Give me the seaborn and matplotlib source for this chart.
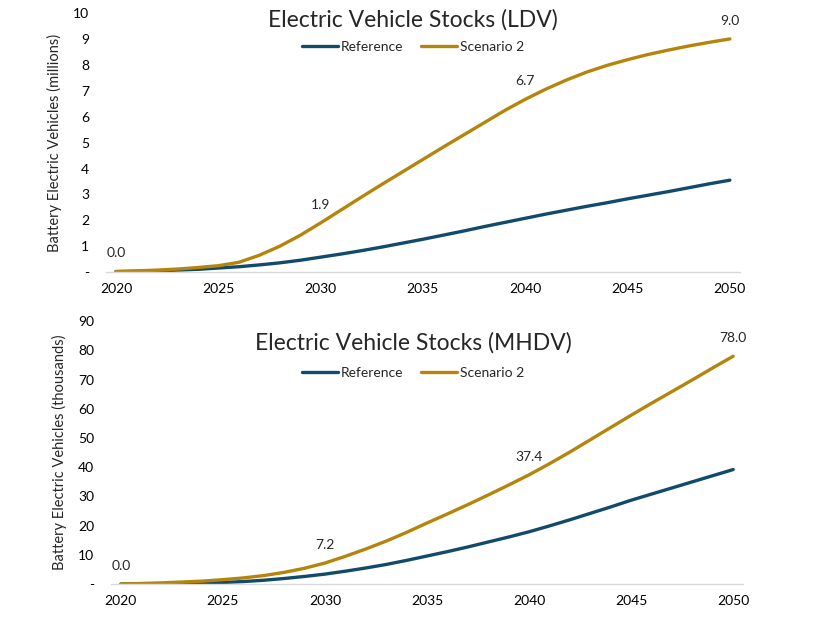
import pandas as pd
import matplotlib.pyplot as plt
import seaborn as sns

years = list(range(2020, 2051))

# LDV stocks, millions
ldv_reference = [0.02, 0.03, 0.05, 0.08, 0.11, 0.16, 0.21, 0.28, 0.36, 0.46,
                 0.58, 0.70, 0.83, 0.97, 1.12, 1.27, 1.43, 1.59, 1.76, 1.92,
                 2.08, 2.24, 2.39, 2.54, 2.68, 2.83, 2.97, 3.11, 3.26, 3.41,
                 3.55]
ldv_scenario2 = [0.03, 0.05, 0.08, 0.12, 0.18, 0.25, 0.38, 0.65, 1.00, 1.42,
                 1.90, 2.40, 2.90, 3.39, 3.87, 4.35, 4.83, 5.30, 5.77, 6.24,
                 6.67, 7.06, 7.41, 7.72, 7.98, 8.20, 8.40, 8.57, 8.73, 8.87,
                 9.00]

# MHDV stocks, thousands
mhdv_reference = [0.0, 0.05, 0.1, 0.2, 0.35, 0.55, 0.85, 1.3, 1.9, 2.6,
                  3.4, 4.4, 5.5, 6.7, 8.1, 9.6, 11.1, 12.7, 14.4, 16.1,
                  17.9, 19.9, 22.0, 24.2, 26.4, 28.7, 30.8, 32.9, 35.0, 37.1,
                  39.2]
mhdv_scenario2 = [0.0, 0.2, 0.4, 0.7, 1.0, 1.5, 2.1, 2.9, 4.0, 5.4,
                  7.2, 9.5, 12.0, 14.7, 17.7, 20.9, 24.0, 27.2, 30.5, 33.9,
                  37.4, 41.2, 45.2, 49.4, 53.6, 57.8, 61.9, 65.9, 69.9, 74.0,
                  78.0]

label_years = [2020, 2030, 2040, 2050]
series_names = ["Reference", "Scenario 2"]
colors = {"Reference": "#114a6b", "Scenario 2": "#b5850b"}

sns.set_theme(style="white")
plt.rcParams['font.family'] = ['Lato', 'DejaVu Sans']


def to_long(ref, sc2):
    df = pd.DataFrame({"year": years, "Reference": ref, "Scenario 2": sc2})
    return df.melt(id_vars="year", var_name="scenario", value_name="value")


def draw_panel(ax, df, ymax, ytick_step, ylabel, title, title_y, legend_y, fig):
    sns.lineplot(data=df, x="year", y="value", hue="scenario",
                 hue_order=series_names, palette=colors, linewidth=2.4, ax=ax)
    ax.set_xlim(2019.5, 2050.5)
    ax.set_ylim(0, ymax)
    ax.set_xticks(list(range(2020, 2051, 5)))
    yt = list(range(0, ymax + 1, ytick_step))
    ax.set_yticks(yt)
    ax.set_yticklabels(["-"] + [str(v) for v in yt[1:]])
    ax.tick_params(axis="both", length=0, labelsize=10, colors="#000000")
    ax.tick_params(axis="y", pad=12)
    ax.tick_params(axis="x", pad=8)
    ax.set_xlabel("")
    ax.set_ylabel(ylabel, fontsize=10.5, labelpad=8)
    for s in ["top", "right", "left"]:
        ax.spines[s].set_visible(False)
    ax.spines["bottom"].set_color("#d9d9d9")
    ax.spines["bottom"].set_linewidth(1)

    sc = df[df["scenario"] == "Scenario 2"].set_index("year")["value"]
    for yr in label_years:
        ax.annotate(f"{sc[yr]:.1f}", (yr, sc[yr]), xytext=(0, 13),
                    textcoords="offset points", ha="center", va="center",
                    fontsize=10)

    handles, labels = ax.get_legend_handles_labels()
    ax.get_legend().remove()
    fig.legend(handles, labels, loc="center", bbox_to_anchor=(0.5, legend_y),
               ncol=2, frameon=False, fontsize=10, handlelength=2.6,
               handletextpad=0.2, columnspacing=1.3)
    fig.text(0.5, title_y, title, ha="center", va="center", fontsize=16.5)


fig = plt.figure(figsize=(8.26, 6.2), dpi=100)
ax1 = fig.add_axes([0.128, 0.561, 0.768, 0.418])
ax2 = fig.add_axes([0.134, 0.058, 0.766, 0.424])

draw_panel(ax1, to_long(ldv_reference, ldv_scenario2), 10, 1,
           "Battery Electric Vehicles (millions)",
           "Electric Vehicle Stocks (LDV)", 1 - 20 / 620, 1 - 47 / 620, fig)
draw_panel(ax2, to_long(mhdv_reference, mhdv_scenario2), 90, 10,
           "Battery Electric Vehicles (thousands)",
           "Electric Vehicle Stocks (MHDV)", 1 - 343 / 620, 1 - 373 / 620, fig)

fig.savefig("out.png", dpi=100)
plt.close(fig)
